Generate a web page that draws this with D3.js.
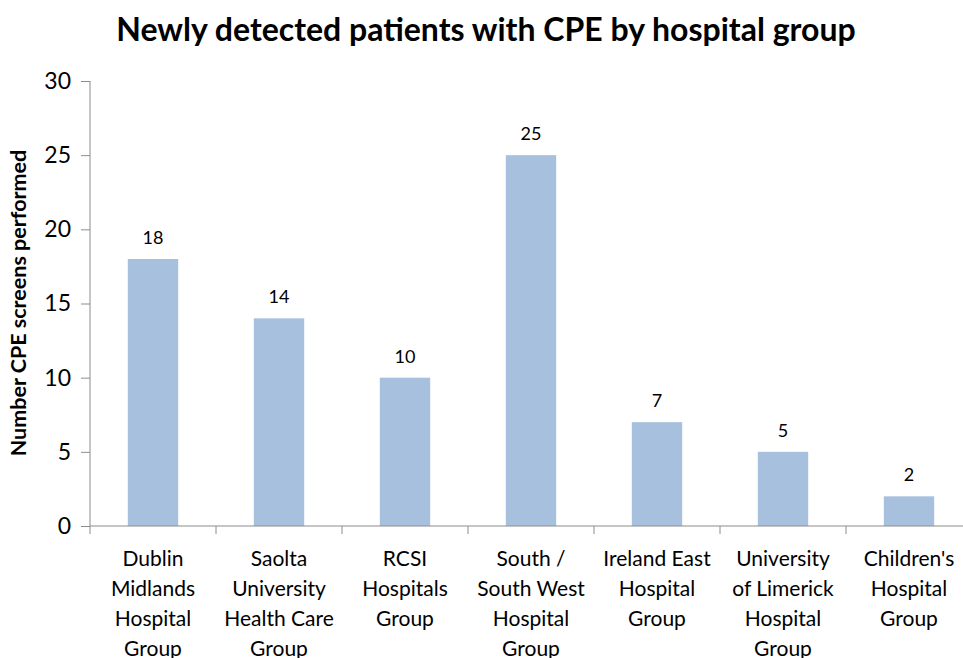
<!DOCTYPE html>
<html>
<head>
<meta charset="utf-8">
<script src="https://cdn.jsdelivr.net/npm/d3@7"></script>
<style>
  body { margin: 0; background: #fff; }
  text { font-family: Lato, "Open Sans", sans-serif; fill: #000; }
</style>
</head>
<body>
<div id="grafico"></div>
<script>
// Datos del grafico
var grupos = [
    ["Dublin", "Midlands", "Hospital", "Group"],
    ["Saolta", "University", "Health Care", "Group"],
    ["RCSI", "Hospitals", "Group"],
    ["South /", "South West", "Hospital", "Group"],
    ["Ireland East", "Hospital", "Group"],
    ["University", "of Limerick", "Hospital", "Group"],
    ["Children's", "Hospital", "Group"]
];
var pacientes = [18, 14, 10, 25, 7, 5, 2];
var ticksY = [0, 5, 10, 15, 20, 25, 30];

var W = 963, H = 658;
var margin = { top: 81, right: -9, bottom: 132, left: 90 },
    width = W - margin.left - margin.right,
    height = H - margin.top - margin.bottom;

var svg = d3.select("#grafico").append("svg")
    .attr("width", W)
    .attr("height", H);

// Titulo
svg.append("text")
    .attr("x", 486)
    .attr("y", 41)
    .attr("text-anchor", "middle")
    .style("font-size", "32px")
    .style("font-weight", "bold")
    .text("Newly detected patients with CPE by hospital group");

// Titulo eje Y
svg.append("text")
    .attr("transform", "translate(26,303) rotate(-90)")
    .attr("text-anchor", "middle")
    .style("font-size", "21.5px")
    .style("font-weight", "bold")
    .text("Number CPE screens performed");

var g = svg.append("g")
    .attr("transform", "translate(" + margin.left + "," + margin.top + ")");

var idx = pacientes.map(function (d, i) { return i; });

var x = d3.scaleBand()
    .domain(idx)
    .range([0, width])
    .paddingInner(0.6)
    .paddingOuter(0.3);

var y = d3.scaleLinear()
    .domain([0, 30])
    .range([height, 0]);

// Barras
g.selectAll(".barra")
    .data(pacientes)
    .enter().append("rect")
    .attr("class", "barra")
    .attr("x", function (d, i) { return x(i); })
    .attr("width", x.bandwidth())
    .attr("y", function (d) { return y(d); })
    .attr("height", function (d) { return height - y(d); })
    .attr("fill", "#a7c0de");

// Etiquetas de valor
g.selectAll(".valor")
    .data(pacientes)
    .enter().append("text")
    .attr("class", "valor")
    .attr("x", function (d, i) { return x(i) + x.bandwidth() / 2; })
    .attr("y", function (d) { return y(d) - 15; })
    .attr("text-anchor", "middle")
    .style("font-size", "18px")
    .text(function (d) { return d; });

// Eje Y
var ejeY = g.append("g")
    .call(d3.axisLeft(y).tickValues(ticksY).tickSize(9).tickPadding(10));
ejeY.selectAll("line, path").attr("stroke", "#8c8c8c");
ejeY.selectAll("text").style("font-size", "23px").style("font-family", "Lato, sans-serif").attr("fill", "#000");
ejeY.select(".domain").attr("d", "M0," + height + "V0");

// Eje X: ticks en los limites de cada banda
var paso = x.step();
var x0 = x(0) - x.paddingOuter() * paso;
var limites = d3.range(pacientes.length + 1).map(function (i) { return x0 + i * paso; });
var ejeX = g.append("g").attr("transform", "translate(0," + height + ")");
ejeX.append("line")
    .attr("x1", 0).attr("x2", width)
    .attr("stroke", "#8c8c8c");
ejeX.selectAll(".tickx")
    .data(limites)
    .enter().append("line")
    .attr("x1", function (d) { return d; })
    .attr("x2", function (d) { return d; })
    .attr("y1", 0).attr("y2", 8)
    .attr("stroke", "#8c8c8c");

// Etiquetas de categoria
grupos.forEach(function (lineas, i) {
    var t = ejeX.append("text")
        .attr("text-anchor", "middle")
        .style("font-size", "21px");
    lineas.forEach(function (l, j) {
        t.append("tspan")
            .attr("x", x(i) + x.bandwidth() / 2)
            .attr("y", 40 + j * 30)
            .text(l);
    });
});
</script>
</body>
</html>
